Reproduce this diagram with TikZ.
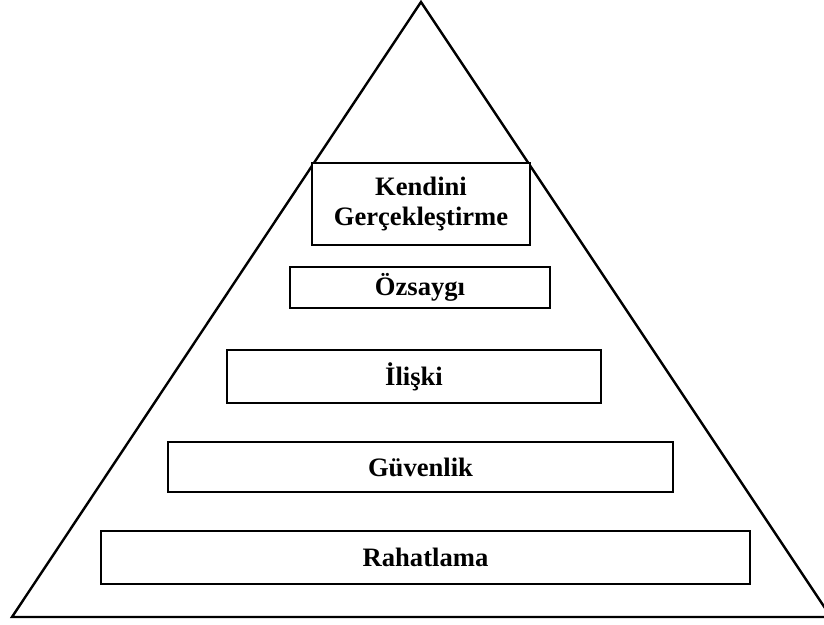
\documentclass[tikz,border=0pt]{standalone}
\usepackage{fontspec}
\setmainfont{Liberation Serif}
\begin{document}
\begin{tikzpicture}[x=0.5pt,y=-0.5pt,
  levelbox/.style={draw=black, line width=1.1pt, fill=white, inner sep=0pt, outer sep=0pt,
    align=center, font=\fontsize{13.3}{15}\selectfont\bfseries},
  pyramid/.style={draw=black, line width=1.2pt, line join=miter}]
\useasboundingbox (0,0) rectangle (824,625);
\draw[pyramid] (421,2) -- (12,617) -- (831,617) -- cycle;
\node[levelbox, minimum width=109pt, minimum height=41pt] (k) at (421,204) {Kendini\\Gerçekleştirme};
\node[levelbox, minimum width=130pt, minimum height=20.5pt] (o) at (420,287.5) {Özsaygı};
\node[levelbox, minimum width=187pt, minimum height=26.5pt] (i) at (414,376.5) {İlişki};
\node[levelbox, minimum width=252.5pt, minimum height=25pt] (g) at (420.5,467) {Güvenlik};
\node[levelbox, minimum width=324.5pt, minimum height=26.5pt] (r) at (425.5,557.5) {Rahatlama};
\end{tikzpicture}
\end{document}
